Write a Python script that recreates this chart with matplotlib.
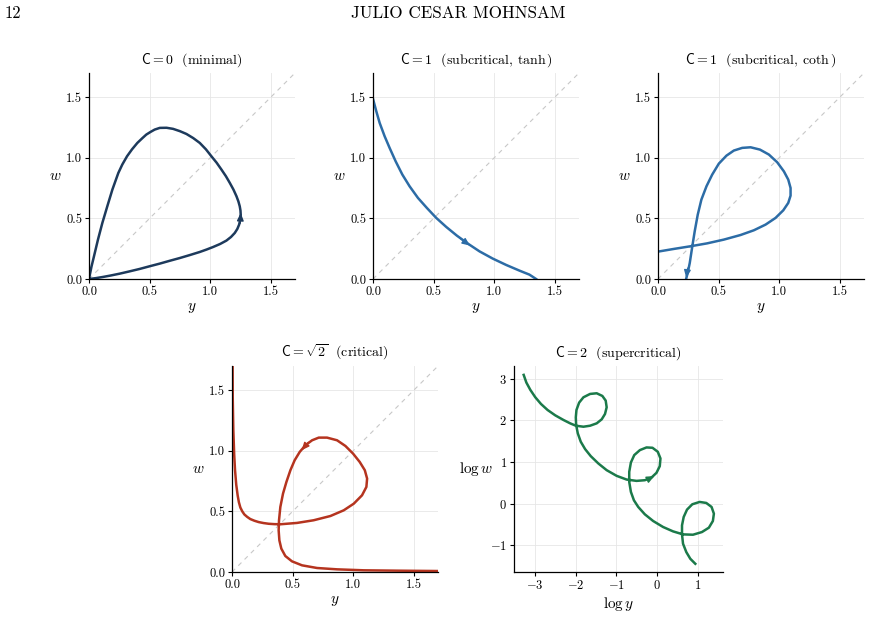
import matplotlib
matplotlib.use("Agg")
import matplotlib.pyplot as plt

plt.rcParams['font.family'] = 'serif'
plt.rcParams['font.serif'] = ['cmr10']
plt.rcParams['mathtext.fontset'] = 'cm'
plt.rcParams['axes.formatter.use_mathtext'] = True
plt.rcParams['axes.unicode_minus'] = True

# ---- data ----
# C = 0 (minimal)
p1_y = [0, 0.02, 0.041, 0.074, 0.11, 0.151, 0.193, 0.218, 0.242, 0.275, 0.314, 0.355, 0.399,
        0.44, 0.473, 0.51, 0.542, 0.584, 0.64, 0.694, 0.75, 0.804, 0.86, 0.914, 0.965, 1.01,
        1.053, 1.093, 1.13, 1.162, 1.192, 1.217, 1.233, 1.244, 1.25, 1.252, 1.248, 1.239,
        1.224, 1.203, 1.172, 1.134, 1.082, 1.024, 0.97, 0.914, 0.83, 0.749, 0.665, 0.584,
        0.5, 0.418, 0.335, 0.253, 0.18, 0.116, 0.055, 0]
p1_w = [0, 0.1, 0.187, 0.325, 0.462, 0.6, 0.738, 0.808, 0.875, 0.945, 1.013, 1.07, 1.123,
        1.162, 1.192, 1.215, 1.233, 1.247, 1.248, 1.239, 1.22, 1.197, 1.163, 1.123, 1.07,
        1.013, 0.96, 0.903, 0.848, 0.793, 0.738, 0.683, 0.64, 0.6, 0.565, 0.531, 0.49, 0.449,
        0.413, 0.38, 0.347, 0.317, 0.289, 0.264, 0.243, 0.223, 0.197, 0.173, 0.15, 0.127,
        0.105, 0.083, 0.063, 0.044, 0.029, 0.017, 0.007, 0]

# C = 1 (subcritical, tanh)
p2_y = [0, 0.027, 0.055, 0.096, 0.137, 0.187, 0.242, 0.302, 0.371, 0.445, 0.522, 0.604, 0.692,
        0.783, 0.879, 0.989, 1.099, 1.209, 1.291, 1.346]
p2_w = [1.486, 1.385, 1.288, 1.178, 1.082, 0.971, 0.862, 0.765, 0.669, 0.586, 0.504, 0.43,
        0.358, 0.292, 0.228, 0.168, 0.116, 0.069, 0.036, 0]

# C = 1 (subcritical, coth)
p3_y = [0, 0.13, 0.267, 0.405, 0.543, 0.681, 0.791, 0.888, 0.97, 1.034, 1.075, 1.094, 1.094,
        1.075, 1.039, 0.984, 0.915, 0.841, 0.764, 0.695, 0.626, 0.565, 0.502, 0.447, 0.4,
        0.358, 0.328, 0.303, 0.281, 0.262, 0.245, 0.234]
p3_w = [0.226, 0.248, 0.27, 0.294, 0.325, 0.363, 0.402, 0.449, 0.504, 0.567, 0.628, 0.688,
        0.751, 0.82, 0.888, 0.963, 1.027, 1.068, 1.087, 1.082, 1.06, 1.018, 0.952, 0.861,
        0.765, 0.655, 0.531, 0.394, 0.256, 0.132, 0.05, 0.008]

# C = sqrt(2) (critical)
p4_y = [0.005, 0.006, 0.011, 0.018, 0.025, 0.035, 0.047, 0.057, 0.069, 0.085, 0.102, 0.125,
        0.151, 0.185, 0.22, 0.26, 0.303, 0.35, 0.4, 0.537, 0.674, 0.812, 0.922, 1.005,
        1.073, 1.109, 1.115, 1.096, 1.054, 0.999, 0.936, 0.867, 0.784, 0.716, 0.661, 0.606,
        0.559, 0.517, 0.482, 0.449, 0.421, 0.399, 0.388, 0.385, 0.391, 0.407, 0.44, 0.495,
        0.578, 0.702, 0.867, 1.087, 1.362, 1.707]
p4_w = [1.71, 1.44, 1.17, 0.97, 0.84, 0.72, 0.63, 0.575, 0.532, 0.5, 0.475, 0.455, 0.437,
        0.423, 0.412, 0.404, 0.398, 0.395, 0.394, 0.405, 0.427, 0.462, 0.509, 0.564, 0.633,
        0.702, 0.771, 0.84, 0.908, 0.977, 1.04, 1.087, 1.109, 1.109, 1.087, 1.046, 0.991,
        0.922, 0.84, 0.743, 0.647, 0.537, 0.427, 0.344, 0.261, 0.193, 0.132, 0.088, 0.055,
        0.033, 0.022, 0.014, 0.011, 0.008]

# C = 2 (supercritical), log-log
p5_logy = [-3.282, -3.216, -3.118, -2.996, -2.857, -2.694, -2.506, -2.302, -2.139, -2.0,
           -1.812, -1.649, -1.486, -1.363, -1.282, -1.241, -1.265, -1.347, -1.486, -1.649,
           -1.812, -1.918, -1.984, -2.0, -1.992, -1.951, -1.878, -1.771, -1.633, -1.445,
           -1.241, -0.996, -0.751, -0.506, -0.302, -0.139, -0.016, 0.065, 0.082, 0.016,
           -0.114, -0.261, -0.424, -0.563, -0.645, -0.686, -0.686, -0.645, -0.571, -0.465,
           -0.302, -0.098, 0.147, 0.392, 0.637, 0.882, 1.102, 1.273, 1.371, 1.396, 1.339,
           1.208, 1.045, 0.865, 0.735, 0.653, 0.612, 0.612, 0.637, 0.718, 0.816, 0.939]
p5_logw = [3.087, 2.903, 2.727, 2.55, 2.39, 2.245, 2.117, 2.005, 1.925, 1.868, 1.844, 1.868,
           1.925, 2.021, 2.149, 2.31, 2.47, 2.582, 2.646, 2.63, 2.55, 2.422, 2.245, 2.069,
           1.885, 1.684, 1.484, 1.307, 1.139, 0.962, 0.802, 0.666, 0.577, 0.545, 0.561,
           0.625, 0.738, 0.898, 1.083, 1.243, 1.339, 1.347, 1.283, 1.163, 0.986, 0.762,
           0.521, 0.281, 0.08, -0.08, -0.257, -0.417, -0.561, -0.666, -0.738, -0.746,
           -0.682, -0.577, -0.417, -0.241, -0.08, 0.016, 0.04, -0.016, -0.144, -0.321,
           -0.521, -0.738, -0.962, -1.163, -1.323, -1.443]

lin_ticks = [0.0, 0.5, 1.0, 1.5]
log_xticks = [-3, -2, -1, 0, 1]
log_yticks = [-1, 0, 1, 2, 3]

navy = '#1d3a5c'
blue = '#2c6ca6'
red = '#b5341f'
green = '#1b7a4a'

fig = plt.figure(figsize=(8.71, 6.43), dpi=100)
W, H = 871, 643


def make_ax(left, top, w, h):
    return fig.add_axes([left / W, (H - top - h) / H, w / W, h / H])


def style(ax):
    for s in ['top', 'right']:
        ax.spines[s].set_visible(False)
    for s in ['left', 'bottom']:
        ax.spines[s].set_linewidth(0.9)
    ax.grid(True, color='#e6e6e6', lw=0.6)
    ax.set_axisbelow(True)
    ax.tick_params(labelsize=9, length=3, width=0.8, pad=2)


def add_arrow(ax, tail, head, color):
    ax.annotate('', xy=head, xytext=tail,
                arrowprops=dict(arrowstyle='-|>,head_length=0.5,head_width=0.22',
                                color=color, lw=1.0, mutation_scale=9,
                                shrinkA=0, shrinkB=0))


def lin_panel(ax, ys, ws, color, title, arrow):
    style(ax)
    ax.plot([0, 1.7], [0, 1.7], ls=(0, (4, 4)), color='#c8c8c8', lw=0.8)
    ax.plot(ys, ws, color=color, lw=1.8, solid_joinstyle='round')
    add_arrow(ax, arrow[0], arrow[1], color)
    ax.set_xlim(0, 1.7)
    ax.set_ylim(0, 1.7)
    ax.set_xticks(lin_ticks)
    ax.set_yticks(lin_ticks)
    ax.xaxis.set_major_formatter(plt.FormatStrFormatter('%.1f'))
    ax.yaxis.set_major_formatter(plt.FormatStrFormatter('%.1f'))
    ax.set_xlabel('$y$', fontsize=11, labelpad=2)
    ax.set_ylabel('$w$', fontsize=11, rotation=0, labelpad=8, va='center')
    ax.set_title(title, fontsize=10, pad=7)


ax1 = make_ax(89, 73, 206, 206)
lin_panel(ax1, p1_y, p1_w, navy, r'$\mathsf{C}=0$  (minimal)',
          [(1.248, 0.46), (1.252, 0.545)])

ax2 = make_ax(373, 73, 206, 206)
lin_panel(ax2, p2_y, p2_w, blue, r'$\mathsf{C}=1$  (subcritical, $\tanh$)',
          [(0.72, 0.335), (0.80, 0.276)])

ax3 = make_ax(658, 73, 206, 206)
lin_panel(ax3, p3_y, p3_w, blue, r'$\mathsf{C}=1$  (subcritical, $\coth$)',
          [(0.245, 0.09), (0.233, 0.01)])

ax4 = make_ax(232, 366, 206, 206)
lin_panel(ax4, p4_y, p4_w, red, r'$\mathsf{C}=\sqrt{2}$  (critical)',
          [(0.63, 1.07), (0.575, 1.005)])

ax5 = make_ax(514, 366, 209, 206)
style(ax5)
ax5.plot(p5_logy, p5_logw, color=green, lw=1.8, solid_joinstyle='round')
add_arrow(ax5, (-0.25, 0.57), (-0.07, 0.66), green)
ax5.set_xlim(-3.52, 1.62)
ax5.set_ylim(-1.64, 3.3)
ax5.set_xticks(log_xticks)
ax5.set_yticks(log_yticks)
ax5.set_xlabel(r'$\log y$', fontsize=11, labelpad=2)
ax5.set_ylabel(r'$\log w$', fontsize=11, rotation=0, labelpad=10, va='center')
ax5.set_title(r'$\mathsf{C}=2$  (supercritical)', fontsize=10, pad=7)

# page header
fig.text(5 / W, 1 - 13 / H, '12', fontsize=12, va='center', ha='left')
fig.text(458 / W, 1 - 13 / H, 'JULIO CESAR MOHNSAM', fontsize=12.3, va='center', ha='center')

fig.savefig('out.png', dpi=100)
